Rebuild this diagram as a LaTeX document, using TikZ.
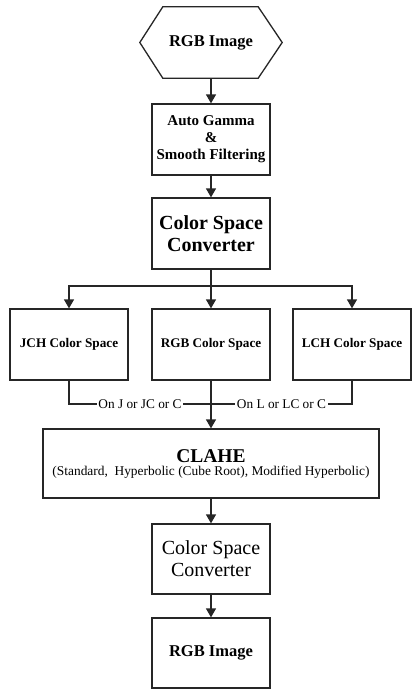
\documentclass[tikz,border=0pt]{standalone}
\usepackage{fontspec}
\setmainfont{Liberation Serif}
\usetikzlibrary{arrows.meta,calc}
\begin{document}
\begin{tikzpicture}[x=1pt,y=-1pt,
  line/.style={draw=black!85, line width=1.3pt},
  box/.style={line, minimum width=118pt, minimum height=71pt, inner sep=0pt, align=center},
  arr/.style={line, -{Triangle[length=9pt,width=10pt]}},
  lbl/.style={fill=white, inner sep=1.5pt, font=\fontsize{13.3}{15}\selectfont},
  fbig/.style={font=\fontsize{20}{22}\selectfont}]
\useasboundingbox (0,0) rectangle (414,693);
\fill[white] (0,0) rectangle (414,693);
% nodes
\node[minimum width=142pt, minimum height=71pt, inner sep=0pt, font=\fontsize{16.5}{18}\selectfont\bfseries] (hex) at (211,42.5) {RGB Image};
\draw[line] (hex.west) -- ($(hex.north west)+(23,0)$) -- ($(hex.north east)+(-24,0)$) -- (hex.east) -- ($(hex.south east)+(-24,0)$) -- ($(hex.south west)+(23,0)$) -- cycle;
\node[box, font=\fontsize{15}{17}\selectfont\bfseries] (gamma) at (211,139.5) {Auto Gamma\\\&\\Smooth Filtering};
\node[box, font=\fontsize{20}{22}\selectfont\bfseries] (csc1) at (211,233.5) {Color Space\\Converter};
\node[box, font=\fontsize{13.2}{15}\selectfont\bfseries] (jch) at (69,344.5) {JCH Color Space};
\node[box, font=\fontsize{13.2}{15}\selectfont\bfseries] (rgbcs) at (211,344.5) {RGB Color Space};
\node[box, font=\fontsize{13.2}{15}\selectfont\bfseries] (lch) at (352,344.5) {LCH Color Space};
\node[box, minimum width=336pt, minimum height=69pt] (clahe) at (211,463.5) {{\fontsize{19.5}{20}\selectfont\bfseries CLAHE}\\[1pt]{\fontsize{13.4}{15}\selectfont (Standard,\ \ Hyperbolic (Cube Root), Modified Hyperbolic)}};
\node[box, minimum height=70pt, fbig] (csc2) at (211,559) {Color Space\\Converter};
\node[box, minimum height=70pt, font=\fontsize{16.5}{18}\selectfont\bfseries] (out) at (211,653) {RGB Image};
\coordinate (br) at (211,286);
\coordinate (jn) at (211,404);
% connectors
\draw[arr] (hex) -- (gamma);
\draw[arr] (gamma) -- (csc1);
\draw[line] (csc1.south) -- (br);
\draw[arr] (br) -| (jch.north);
\draw[arr] (br) -- (rgbcs.north);
\draw[arr] (br) -| (lch.north);
\draw[line] (jch.south) |- node[lbl, pos=0.75] {On J or JC or C} (jn);
\draw[line] (lch.south) |- node[lbl, pos=0.75] {On L or LC or C} (jn);
\draw[line] (rgbcs.south) -- (jn);
\draw[arr] (jn) -- (clahe.north);
\draw[arr] (clahe) -- (csc2);
\draw[arr] (csc2) -- (out);
\end{tikzpicture}
\end{document}
